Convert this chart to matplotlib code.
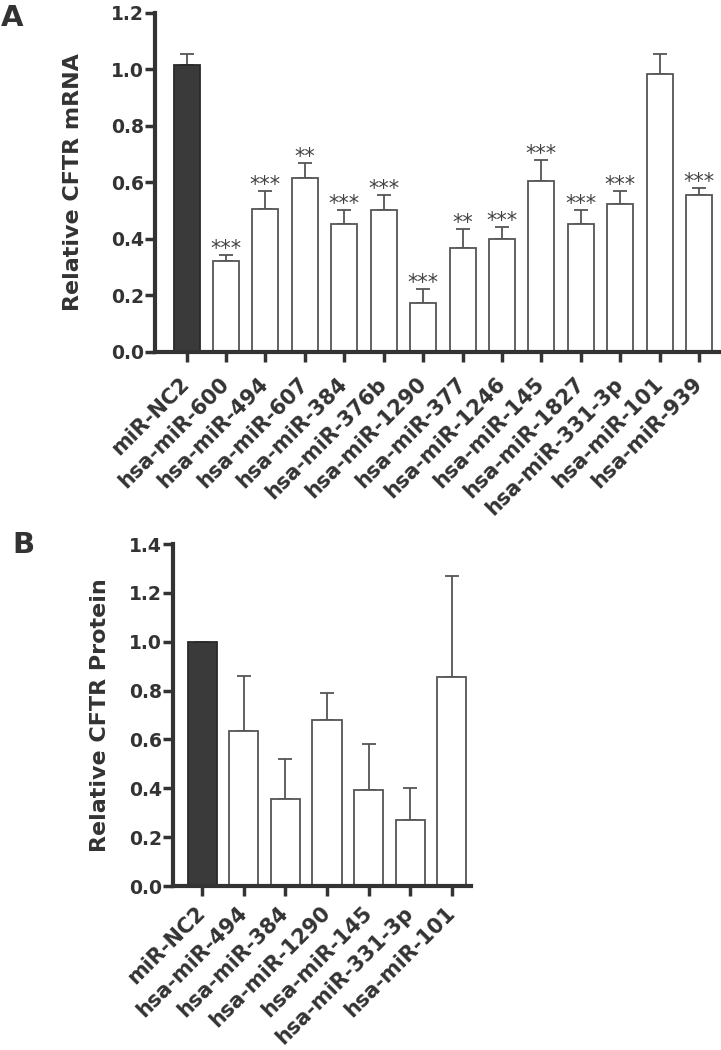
import numpy as np
import matplotlib.pyplot as plt

# Panel A data: relative CFTR mRNA
labels_a = ['miR-NC2', 'hsa-miR-600', 'hsa-miR-494', 'hsa-miR-607', 'hsa-miR-384',
            'hsa-miR-376b', 'hsa-miR-1290', 'hsa-miR-377', 'hsa-miR-1246', 'hsa-miR-145',
            'hsa-miR-1827', 'hsa-miR-331-3p', 'hsa-miR-101', 'hsa-miR-939']
mrna_mean = [1.014, 0.322, 0.504, 0.614, 0.454, 0.501, 0.173, 0.369, 0.399, 0.606,
             0.454, 0.523, 0.984, 0.555]
mrna_err = [0.042, 0.020, 0.064, 0.055, 0.047, 0.055, 0.049, 0.065, 0.042, 0.072,
            0.049, 0.048, 0.072, 0.026]
stars_a = ['', '***', '***', '**', '***', '***', '***', '**', '***', '***', '***', '***', '', '***']

# Panel B data: relative CFTR protein
labels_b = ['miR-NC2', 'hsa-miR-494', 'hsa-miR-384', 'hsa-miR-1290', 'hsa-miR-145',
            'hsa-miR-331-3p', 'hsa-miR-101']
prot_mean = [1.0, 0.636, 0.355, 0.679, 0.391, 0.269, 0.855]
prot_err = [0.0, 0.225, 0.166, 0.112, 0.189, 0.132, 0.415]

txt = '#333333'
plt.rcParams['font.family'] = ['DejaVu Sans']
plt.rcParams['font.weight'] = 'bold'
plt.rcParams['text.color'] = txt

W, H = 721, 1050
fig = plt.figure(figsize=(W / 100, H / 100), dpi=100)


def panel(rect, labels, means, errs, ymax, width, xlim, ylabel, label_x, xpad):
    ax = fig.add_axes(rect)
    x = np.arange(len(labels))
    colors = ['#3a3a3a'] + ['white'] * (len(labels) - 1)
    edges = ['#2a2a2a'] + ['#555555'] * (len(labels) - 1)
    ax.bar(x, means, width=width, color=colors, edgecolor=edges, linewidth=1.3, zorder=2)
    errs = np.array(errs)
    ax.errorbar(x, means, yerr=[np.zeros_like(errs), errs], fmt='none',
                ecolor='#555555', elinewidth=1.3, capsize=5, capthick=1.3, zorder=1)
    ax.set_xlim(*xlim)
    ax.set_ylim(0, ymax)
    ax.set_yticks(np.arange(0, ymax + 0.01, 0.2))
    ax.set_yticklabels([f'{v:.1f}' for v in np.arange(0, ymax + 0.01, 0.2)])
    ax.set_xticks(x)
    ax.set_xticklabels(labels, rotation=45, ha='right', va='center',
                       rotation_mode='anchor', fontsize=15, color=txt)
    for s in ['top', 'right']:
        ax.spines[s].set_visible(False)
    for s in ['left', 'bottom']:
        ax.spines[s].set_linewidth(3)
        ax.spines[s].set_color(txt)
    ax.tick_params(axis='y', length=7, width=2.5, color=txt, labelsize=13.5,
                   labelcolor=txt, pad=1)
    ax.tick_params(axis='x', length=7, width=2.5, color=txt, pad=xpad)
    ax.set_ylabel(ylabel, fontsize=16, fontweight='bold', color=txt)
    ax.yaxis.set_label_coords(label_x, 0.5)
    return ax


ax_a = panel([155 / W, 1 - 351.7 / H, (720 - 155) / W, (351.7 - 13) / H],
             labels_a, mrna_mean, mrna_err, 1.2, 0.66, (-0.8, 13.53),
             'Relative CFTR mRNA', -0.127, 14)
for i, s in enumerate(stars_a):
    if s:
        ax_a.text(i, mrna_mean[i] + mrna_err[i], s, ha='center', va='baseline',
                  fontsize=15, fontweight='normal', color='#444444')

ax_b = panel([173 / W, 1 - 886 / H, (471 - 173) / W, (886 - 544) / H],
             labels_b, prot_mean, prot_err, 1.4, 0.70, (-0.7, 6.46),
             'Relative CFTR Protein', -0.211, 10)

fig.text(1 / W, 1 - 4 / H, 'A', fontsize=21, va='top', ha='left', color=txt)
fig.text(12 / W, 1 - 531 / H, 'B', fontsize=21, va='top', ha='left', color=txt)

fig.savefig('out.png', dpi=100)
